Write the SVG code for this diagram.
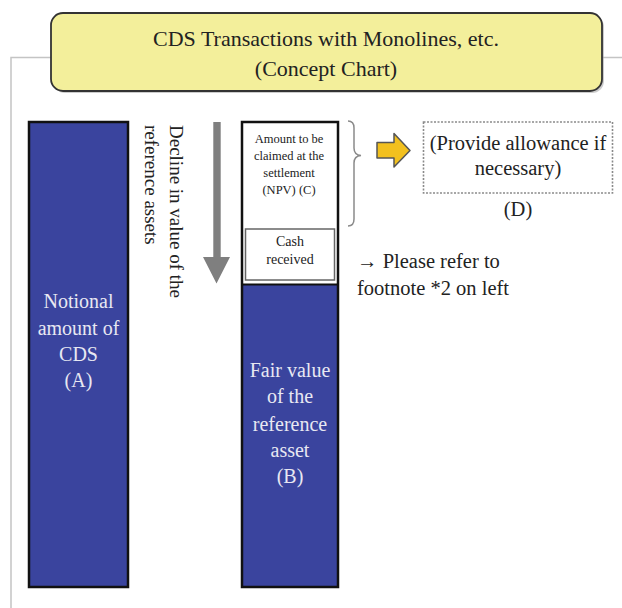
<svg xmlns="http://www.w3.org/2000/svg" width="622" height="608" viewBox="0 0 622 608">
<style>
  .t { font-family: 'Liberation Serif', 'DejaVu Serif', serif; fill: #222; }
  .w { font-family: 'Liberation Serif', 'DejaVu Serif', serif; fill: #E8E8F2; font-size: 20px; text-anchor: middle; }
  .blue { fill: #3A449E; stroke: #111; stroke-width: 2.5; }
  .frame { stroke: #C4C4C4; stroke-width: 1.5; fill: none; }
</style>
<rect width="622" height="608" fill="#FFFFFF"/>
<g id="frame">
  <path class="frame" d="M11 608 V57.5 H51 M602 57.5 H622"/>
</g>
<g id="title">
  <rect x="53" y="15" width="551" height="78" rx="12" ry="12" fill="#9A9A9A" opacity="0.5"/>
  <rect x="51" y="13" width="551" height="78" rx="12" ry="12" fill="#F3EF9B" stroke="#333" stroke-width="1.8"/>
  <text class="t" x="326" y="46" font-size="22" text-anchor="middle">CDS Transactions with Monolines, etc.</text>
  <text class="t" x="326" y="76" font-size="22" text-anchor="middle">(Concept Chart)</text>
</g>
<g id="notional">
  <rect class="blue" x="29" y="122" width="99" height="465"/>
  <text class="w" x="78.5" y="308">Notional</text>
  <text class="w" x="78.5" y="334.5">amount of</text>
  <text class="w" x="78.5" y="361">CDS</text>
  <text class="w" x="78.5" y="387">(A)</text>
</g>
<g id="decline">
  <text class="t" font-size="19" transform="translate(170,125) rotate(90)">Decline in value of the</text>
  <text class="t" font-size="19" transform="translate(145,125) rotate(90)">reference assets</text>
  <path d="M213.3 122 H220.7 V257 H230 L216.5 283.5 L203 257 H213.3 Z" fill="#7F7F7F"/>
</g>
<g id="reference-column">
  <rect x="242" y="122" width="96" height="465" fill="#FFFFFF" stroke="none"/>
  <rect x="242" y="285" width="96" height="302" fill="#3A449E"/>
  <line x1="242" y1="284.5" x2="338" y2="284.5" stroke="#111" stroke-width="2"/>
  <rect x="242" y="122" width="96" height="465" fill="none" stroke="#111" stroke-width="2.5"/>
  <g id="amount-c">
    <text class="t" font-size="12.5" x="289" y="143" text-anchor="middle">Amount to be</text>
    <text class="t" font-size="12.5" x="289" y="160" text-anchor="middle">claimed at the</text>
    <text class="t" font-size="12.5" x="289" y="177" text-anchor="middle">settlement</text>
    <text class="t" font-size="12.5" x="289" y="193.5" text-anchor="middle">(NPV) (C)</text>
  </g>
  <g id="cash">
    <rect x="245.5" y="229" width="89" height="51" fill="#FFFFFF" stroke="#666" stroke-width="1.5"/>
    <text class="t" font-size="14" x="290" y="246" text-anchor="middle">Cash</text>
    <text class="t" font-size="14" x="290" y="264" text-anchor="middle">received</text>
  </g>
  <g id="fair-value">
    <text class="w" x="290" y="377">Fair value</text>
    <text class="w" x="290" y="403">of the</text>
    <text class="w" x="290" y="431">reference</text>
    <text class="w" x="290" y="457">asset</text>
    <text class="w" x="290" y="483">(B)</text>
  </g>
</g>
<g id="connectors">
  <path d="M348 121 Q354 121 354 128 V148 Q354 155 361 155.5 Q354 156 354 163 V219 Q354 226 348 226" fill="none" stroke="#8A8A8A" stroke-width="1.5"/>
  <path d="M377 142.5 H394 V133.5 L410 150.5 L394 167 V158 H377 Z" fill="#F2C01E" stroke="#555" stroke-width="1.5" stroke-linejoin="round"/>
</g>
<g id="allowance">
  <rect x="423.5" y="122" width="189" height="71" fill="none" stroke="#8A8A8A" stroke-width="1.6" stroke-dasharray="2 1.5"/>
  <text class="t" font-size="20.5" x="518" y="150" text-anchor="middle">(Provide allowance if</text>
  <text class="t" font-size="20.5" x="518" y="175" text-anchor="middle">necessary)</text>
  <text class="t" font-size="20.5" x="518" y="216" text-anchor="middle">(D)</text>
</g>
<g id="footnote">
  <text class="t" font-size="20.5" x="357" y="268">→ Please refer to</text>
  <text class="t" font-size="20.5" x="357" y="295">footnote *2 on left</text>
</g>
</svg>
